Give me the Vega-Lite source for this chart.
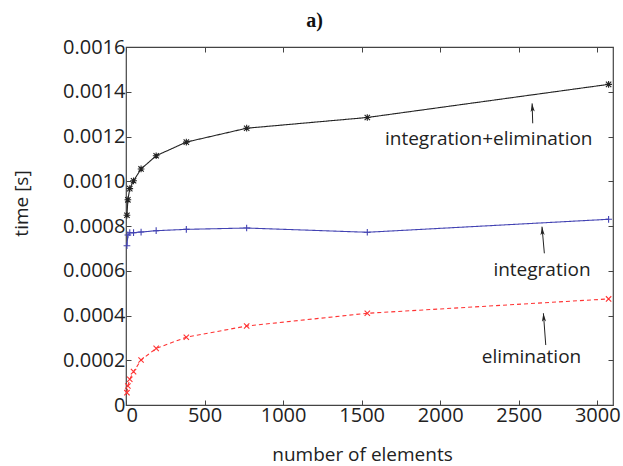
{
  "$schema": "https://vega.github.io/schema/vega-lite/v6.json",
  "width": 487,
  "height": 358,
  "autosize": {"type": "none"},
  "padding": {"left": 126, "top": 47, "right": 10, "bottom": 61},
  "background": "white",
  "title": {"text": "a)", "font": "Liberation Serif", "fontSize": 20, "fontWeight": "bold", "color": "#111", "anchor": "middle", "frame": "group", "offset": 6, "dx": -55},
  "config": {
    "view": {"stroke": "#444", "strokeWidth": 1.2},
    "axis": {"labelFont": "Open Sans", "labelFontSize": 20, "labelColor": "#222", "titleFont": "Open Sans", "titleFontSize": 19, "titleFontWeight": "normal", "titleColor": "#222", "tickColor": "#444", "tickSize": -5, "domain": false, "grid": false}
  },
  "datasets": {
    "series": [
      {"n": 6, "series": "integration+elimination", "time": 0.000848},
      {"n": 12, "series": "integration+elimination", "time": 0.000917},
      {"n": 24, "series": "integration+elimination", "time": 0.000967},
      {"n": 48, "series": "integration+elimination", "time": 0.001002},
      {"n": 96, "series": "integration+elimination", "time": 0.001055},
      {"n": 192, "series": "integration+elimination", "time": 0.001114},
      {"n": 384, "series": "integration+elimination", "time": 0.001175},
      {"n": 768, "series": "integration+elimination", "time": 0.001237},
      {"n": 1536, "series": "integration+elimination", "time": 0.001285},
      {"n": 3072, "series": "integration+elimination", "time": 0.001433},
      {"n": 6, "series": "integration", "time": 0.000712},
      {"n": 12, "series": "integration", "time": 0.00076},
      {"n": 24, "series": "integration", "time": 0.00077},
      {"n": 48, "series": "integration", "time": 0.00077},
      {"n": 96, "series": "integration", "time": 0.000773},
      {"n": 192, "series": "integration", "time": 0.000779},
      {"n": 384, "series": "integration", "time": 0.000785},
      {"n": 768, "series": "integration", "time": 0.000791},
      {"n": 1536, "series": "integration", "time": 0.000772},
      {"n": 3072, "series": "integration", "time": 0.00083},
      {"n": 6, "series": "elimination", "time": 0.000055},
      {"n": 12, "series": "elimination", "time": 0.000085},
      {"n": 24, "series": "elimination", "time": 0.000115},
      {"n": 48, "series": "elimination", "time": 0.000149},
      {"n": 96, "series": "elimination", "time": 0.000201},
      {"n": 192, "series": "elimination", "time": 0.000253},
      {"n": 384, "series": "elimination", "time": 0.000303},
      {"n": 768, "series": "elimination", "time": 0.000353},
      {"n": 1536, "series": "elimination", "time": 0.00041},
      {"n": 3072, "series": "elimination", "time": 0.000474}
    ],
    "notes": [
      {"label": "integration+elimination", "tx": 2309, "ty": 0.001187, "ax": 2589, "ay": 0.001259, "hx": 2585, "hy": 0.001348},
      {"label": "integration", "tx": 2648, "ty": 0.000603, "ax": 2663, "ay": 0.000678, "hx": 2648, "hy": 0.000797},
      {"label": "elimination", "tx": 2581, "ty": 0.000216, "ax": 2672, "ay": 0.000268, "hx": 2657, "hy": 0.00041}
    ]
  },
  "layer": [
    {
      "data": {"name": "series"},
      "mark": {"type": "line", "strokeWidth": 1.1},
      "encoding": {
        "x": {"field": "n", "type": "quantitative", "scale": {"domain": [0, 3100], "nice": false, "zero": false},
              "axis": {"orient": "bottom", "title": "number of elements", "format": "d", "values": [0, 500, 1000, 1500, 2000, 2500, 3000], "labelFlush": true, "labelPadding": 5, "titleX": 236, "titleY": 49, "titleBaseline": "middle"}},
        "y": {"field": "time", "type": "quantitative", "scale": {"domain": [0, 0.0016], "nice": false, "zero": false},
              "axis": {"orient": "left", "title": "time [s]", "values": [0, 0.0002, 0.0004, 0.0006, 0.0008, 0.001, 0.0012, 0.0014, 0.0016], "labelExpr": "datum.value == 0 ? '0' : format(datum.value, '.4f')", "labelPadding": 6, "titleX": -105, "titleY": 156, "titleBaseline": "middle", "titleAngle": -90}},
        "color": {"field": "series", "type": "nominal", "legend": null,
                  "scale": {"domain": ["integration+elimination", "integration", "elimination"], "range": ["#222222", "#4343b3", "#ff3333"]}},
        "strokeDash": {"field": "series", "type": "nominal", "legend": null,
                       "scale": {"domain": ["integration+elimination", "integration", "elimination"], "range": [[1, 0], [1, 0], [4, 3]]}}
      }
    },
    {
      "data": {"name": "series"},
      "mark": {"type": "point", "filled": false, "strokeWidth": 1.1, "opacity": 1},
      "encoding": {
        "x": {"field": "n", "type": "quantitative", "scale": {"domain": [0, 3100], "nice": false, "zero": false},
              "axis": {"orient": "top", "labels": false, "title": null, "values": [0, 500, 1000, 1500, 2000, 2500, 3000]}},
        "y": {"field": "time", "type": "quantitative", "scale": {"domain": [0, 0.0016], "nice": false, "zero": false},
              "axis": {"orient": "right", "labels": false, "title": null, "values": [0, 0.0002, 0.0004, 0.0006, 0.0008, 0.001, 0.0012, 0.0014, 0.0016]}},
        "color": {"field": "series", "type": "nominal", "legend": null,
                  "scale": {"domain": ["integration+elimination", "integration", "elimination"], "range": ["#222222", "#4343b3", "#ff3333"]}},
        "shape": {"field": "series", "type": "nominal", "legend": null,
                  "scale": {"domain": ["integration+elimination", "integration", "elimination"],
                            "range": ["M-1,0L1,0M0,-1L0,1M-0.8,-0.8L0.8,0.8M-0.8,0.8L0.8,-0.8", "M-1,0L1,0M0,-1L0,1", "M-0.8,-0.8L0.8,0.8M-0.8,0.8L0.8,-0.8"]}},
        "size": {"value": 45}
      }
    },
    {
      "data": {"name": "notes"},
      "mark": {"type": "rule", "color": "#222", "strokeWidth": 1},
      "encoding": {
        "x": {"field": "ax", "type": "quantitative", "axis": null},
        "y": {"field": "ay", "type": "quantitative", "axis": null},
        "x2": {"field": "hx"},
        "y2": {"field": "hy"}
      }
    },
    {
      "data": {"name": "notes"},
      "mark": {"type": "point", "filled": true, "color": "#222", "opacity": 1, "angle": -4, "shape": "M0,0L0.4,1.6L0,1.2L-0.4,1.6Z", "size": 110},
      "encoding": {
        "x": {"field": "hx", "type": "quantitative", "axis": null},
        "y": {"field": "hy", "type": "quantitative", "axis": null}
      }
    },
    {
      "data": {"name": "notes"},
      "mark": {"type": "text", "font": "Open Sans", "fontSize": 19, "color": "#222", "align": "center", "baseline": "middle"},
      "encoding": {
        "x": {"field": "tx", "type": "quantitative", "axis": null},
        "y": {"field": "ty", "type": "quantitative", "axis": null},
        "text": {"field": "label"}
      }
    }
  ],
  "resolve": {"axis": {"x": "independent", "y": "independent"}}
}
